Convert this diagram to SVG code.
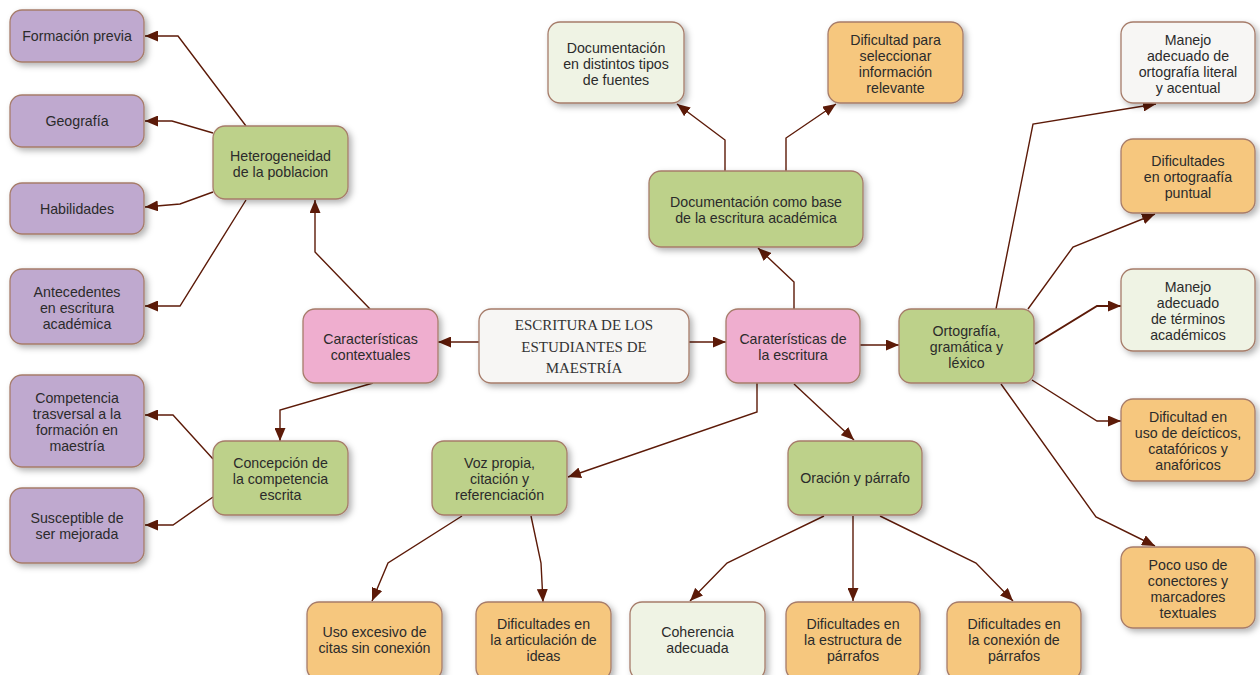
<svg xmlns="http://www.w3.org/2000/svg" width="1260" height="675" viewBox="0 0 1260 675">
<style>
.box{stroke:#a67c6a;stroke-width:1.3;filter:url(#sh)}
.pu{fill:#bfa9cf}.gr{fill:#bdd18a}.pk{fill:#efaecf}.or{fill:#f6c77e}.lg{fill:#eff3e4}.wh{fill:#f7f6f4}
text{font-family:"Liberation Sans",Arial,sans-serif;font-size:14.2px;fill:#2b2b2b;text-anchor:middle}
text.serif{font-family:"Liberation Serif","Times New Roman",serif;font-size:15px;fill:#333}
.c path{fill:none;stroke:#5c1a08;stroke-width:1.4;marker-end:url(#ah)}
</style>
<defs>
<filter id="sh" x="-20%" y="-20%" width="150%" height="150%">
<feDropShadow dx="3" dy="3" stdDeviation="3" flood-color="#000" flood-opacity="0.3"/>
</filter>
<marker id="ah" markerUnits="userSpaceOnUse" markerWidth="13" markerHeight="11" refX="13" refY="5.5" orient="auto">
<path d="M0,0 L13,5.5 L0,11 z" fill="#5c1a08"/>
</marker>
</defs>
<rect width="1260" height="675" fill="#fff"/>

<g class="c" id="connectors">
<path d="M246,126 L178,36 L145,36"/>
<path d="M213,133 L172,121 L145,121"/>
<path d="M213,192 L180,204 L145,207"/>
<path d="M246,200 L180,306 L145,306"/>
<path d="M370,309 L315,252 L315,200"/>
<path d="M373,383 L280,410 L280,441"/>
<path d="M213,459 L173,415 L145,415"/>
<path d="M213,497 L173,525 L145,525"/>
<path d="M479,342 L438,342"/>
<path d="M689,342 L726,342"/>
<path d="M794,309 L794,282 L758,248"/>
<path d="M725,171 L725,140 L677,104"/>
<path d="M786,171 L786,138 L836,104"/>
<path d="M860,345 L899,345"/>
<path d="M757,383 L757,412 L568,477"/>
<path d="M794,384 L854,440"/>
<path d="M462,516 L388,563 L372,601"/>
<path d="M531,516 L541,563 L543,602"/>
<path d="M824,516 L727,563 L690,601"/>
<path d="M853,516 L853,601"/>
<path d="M880,516 L976,563 L1013,601"/>
<path d="M996,309 L1033,124 L1156,104"/>
<path d="M1028,309 L1073,247 L1155,214"/>
<path d="M1035,344 L1097,306 L1121,306" style="stroke-width:2"/>
<path d="M1032,380 L1097,421 L1121,421"/>
<path d="M1001,384 L1096,517 L1155,546"/>
</g>

<g id="n-formacion"><rect class="box pu" x="10" y="10" width="134" height="52" rx="12"/><text x="77" y="41">Formación previa</text></g>
<g id="n-geografia"><rect class="box pu" x="10" y="95" width="134" height="52" rx="12"/><text x="77" y="126">Geografía</text></g>
<g id="n-habilidades"><rect class="box pu" x="10" y="183" width="134" height="51" rx="12"/><text x="77" y="214">Habilidades</text></g>
<g id="n-antecedentes"><rect class="box pu" x="10" y="269" width="134" height="75" rx="12"/><text x="77" y="297"><tspan x="77">Antecedentes</tspan><tspan x="77" dy="16">en escritura</tspan><tspan x="77" dy="16">académica</tspan></text></g>
<g id="n-competencia"><rect class="box pu" x="10" y="375" width="134" height="92" rx="12"/><text x="77" y="403"><tspan x="77">Competencia</tspan><tspan x="77" dy="16">trasversal a la</tspan><tspan x="77" dy="16">formación en</tspan><tspan x="77" dy="16">maestría</tspan></text></g>
<g id="n-susceptible"><rect class="box pu" x="10" y="488" width="134" height="75" rx="12"/><text x="77" y="523"><tspan x="77">Susceptible de</tspan><tspan x="77" dy="16">ser mejorada</tspan></text></g>

<g id="n-heterogeneidad"><rect class="box gr" x="213" y="126" width="135" height="73" rx="12"/><text x="280.5" y="161"><tspan x="280.5">Heterogeneidad</tspan><tspan x="280.5" dy="16">de la poblacion</tspan></text></g>
<g id="n-concepcion"><rect class="box gr" x="213" y="441" width="135" height="74" rx="12"/><text x="280.5" y="468"><tspan x="280.5">Concepción de</tspan><tspan x="280.5" dy="16">la competencia</tspan><tspan x="280.5" dy="16">escrita</tspan></text></g>
<g id="n-contextuales"><rect class="box pk" x="303" y="309" width="135" height="74" rx="12"/><text x="370.5" y="344"><tspan x="370.5">Características</tspan><tspan x="370.5" dy="16">contextuales</tspan></text></g>
<g id="n-escritura"><rect class="box wh" x="479" y="309" width="210" height="74" rx="12"/><text class="serif" x="584" y="330"><tspan x="584">ESCRITURA DE LOS</tspan><tspan x="584" dy="21.5">ESTUDIANTES DE</tspan><tspan x="584" dy="21.5">MAESTRÍA</tspan></text></g>
<g id="n-caracteristicas"><rect class="box pk" x="726" y="309" width="134" height="74" rx="12"/><text x="793" y="344"><tspan x="793">Caraterísticas de</tspan><tspan x="793" dy="16">la escritura</tspan></text></g>
<g id="n-doc-base"><rect class="box gr" x="649" y="171" width="214" height="76" rx="12"/><text x="756" y="207"><tspan x="756">Documentación como base</tspan><tspan x="756" dy="16">de la escritura académica</tspan></text></g>
<g id="n-doc-fuentes"><rect class="box lg" x="548" y="22" width="136" height="81" rx="12"/><text x="616" y="53"><tspan x="616">Documentación</tspan><tspan x="616" dy="16">en distintos tipos</tspan><tspan x="616" dy="16">de fuentes</tspan></text></g>
<g id="n-dificultad-info"><rect class="box or" x="828" y="22" width="135" height="81" rx="12"/><text x="895.5" y="45"><tspan x="895.5">Dificultad para</tspan><tspan x="895.5" dy="16">seleccionar</tspan><tspan x="895.5" dy="16">información</tspan><tspan x="895.5" dy="16">relevante</tspan></text></g>
<g id="n-ortografia"><rect class="box gr" x="899" y="309" width="135" height="74" rx="12"/><text x="966.5" y="336"><tspan x="966.5">Ortografía,</tspan><tspan x="966.5" dy="16">gramática y</tspan><tspan x="966.5" dy="16">léxico</tspan></text></g>
<g id="n-manejo-orto"><rect class="box wh" x="1121" y="22" width="134" height="81" rx="12"/><text x="1188" y="45"><tspan x="1188">Manejo</tspan><tspan x="1188" dy="16">adecuado de</tspan><tspan x="1188" dy="16">ortografía literal</tspan><tspan x="1188" dy="16">y acentual</tspan></text></g>
<g id="n-dif-orto"><rect class="box or" x="1121" y="139" width="134" height="74" rx="12"/><text x="1188" y="166"><tspan x="1188">Dificultades</tspan><tspan x="1188" dy="16">en ortograafía</tspan><tspan x="1188" dy="16">puntual</tspan></text></g>
<g id="n-manejo-term"><rect class="box lg" x="1121" y="269" width="134" height="82" rx="12"/><text x="1188" y="292"><tspan x="1188">Manejo</tspan><tspan x="1188" dy="16">adecuado</tspan><tspan x="1188" dy="16">de términos</tspan><tspan x="1188" dy="16">académicos</tspan></text></g>
<g id="n-deicticos"><rect class="box or" x="1121" y="399" width="134" height="82" rx="12"/><text x="1188" y="422"><tspan x="1188">Dificultad en</tspan><tspan x="1188" dy="16">uso de deícticos,</tspan><tspan x="1188" dy="16">catafóricos y</tspan><tspan x="1188" dy="16">anafóricos</tspan></text></g>
<g id="n-poco-uso"><rect class="box or" x="1121" y="547" width="134" height="81" rx="12"/><text x="1188" y="570"><tspan x="1188">Poco uso de</tspan><tspan x="1188" dy="16">conectores y</tspan><tspan x="1188" dy="16">marcadores</tspan><tspan x="1188" dy="16">textuales</tspan></text></g>
<g id="n-voz"><rect class="box gr" x="432" y="441" width="135" height="74" rx="12"/><text x="499.5" y="468"><tspan x="499.5">Voz propia,</tspan><tspan x="499.5" dy="16">citación y</tspan><tspan x="499.5" dy="16">referenciación</tspan></text></g>
<g id="n-oracion"><rect class="box gr" x="788" y="441" width="134" height="74" rx="12"/><text x="855" y="483">Oración y párrafo</text></g>
<g id="n-uso-excesivo"><rect class="box or" x="307" y="602" width="135" height="78" rx="12"/><text x="374.5" y="637"><tspan x="374.5">Uso excesivo de</tspan><tspan x="374.5" dy="16">citas sin conexión</tspan></text></g>
<g id="n-articulacion"><rect class="box or" x="476" y="602" width="135" height="78" rx="12"/><text x="543.5" y="629"><tspan x="543.5">Dificultades en</tspan><tspan x="543.5" dy="16">la articulación de</tspan><tspan x="543.5" dy="16">ideas</tspan></text></g>
<g id="n-coherencia"><rect class="box lg" x="630" y="602" width="135" height="78" rx="12"/><text x="697.5" y="637"><tspan x="697.5">Coherencia</tspan><tspan x="697.5" dy="16">adecuada</tspan></text></g>
<g id="n-estructura"><rect class="box or" x="786" y="602" width="134" height="78" rx="12"/><text x="853" y="629"><tspan x="853">Dificultades en</tspan><tspan x="853" dy="16">la estructura de</tspan><tspan x="853" dy="16">párrafos</tspan></text></g>
<g id="n-conexion"><rect class="box or" x="947" y="602" width="134" height="78" rx="12"/><text x="1014" y="629"><tspan x="1014">Dificultades en</tspan><tspan x="1014" dy="16">la conexión de</tspan><tspan x="1014" dy="16">párrafos</tspan></text></g>
</svg>
